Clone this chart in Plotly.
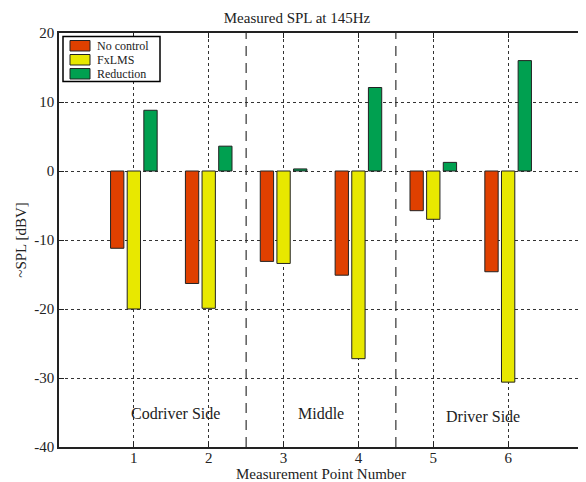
import plotly.graph_objects as go

points = [1, 2, 3, 4, 5, 6]
no_control = [-11.2, -16.3, -13.1, -15.1, -5.75, -14.6]
fxlms = [-20.0, -19.9, -13.4, -27.2, -7.0, -30.6]
reduction = [8.8, 3.6, 0.3, 12.1, 1.25, 16.0]
series_names = ["No control", "FxLMS", "Reduction"]
colors = ["#E04000", "#E8E800", "#00A050"]
y_ticks = [-40, -30, -20, -10, 0, 10, 20]
y_ticktext = ["-40", "-30", "-20", "-10", "0", "10", "20"]
region_labels = ["Codriver Side", "Middle", "Driver Side"]
region_x = [1.56, 3.5, 5.67]
region_y = [-35.2, -35.2, -35.6]
dividers = [2.5, 4.5]

font = "Liberation Serif"
ink = "#222222"

# page has an 8px body margin: figure is shrunk so the plot area lands where the reference has it
W, H = 578, 474
ML, MR, MT, MB = 51, 3, 25, 35
PW, PH = W - ML - MR, H - MT - MB


def px(xp):
    """page x pixel -> paper x"""
    return (xp - 8 - ML) / PW


def py(yp):
    """page y pixel -> paper y"""
    return 1 - (yp - 8 - MT) / PH


fig = go.Figure()
for name, vals, c in zip(series_names, [no_control, fxlms, reduction], colors):
    fig.add_trace(go.Bar(x=points, y=vals, name=name, showlegend=False,
                         marker=dict(color=c, line=dict(color=ink, width=1))))

for xv in dividers:
    fig.add_shape(type="line", x0=xv, x1=xv, y0=-40, y1=20, xref="x", yref="y",
                  line=dict(color="#333333", width=1.2, dash="10px,7px"))

for t, xv, yv in zip(region_labels, region_x, region_y):
    fig.add_annotation(x=xv, y=yv, text=t, showarrow=False,
                       font=dict(family=font, size=16, color=ink))

# legend box drawn by hand (compact MATLAB-style legend)
fig.add_shape(type="rect", xref="paper", yref="paper",
              x0=px(63), x1=px(160), y0=py(81.5), y1=py(36.5),
              fillcolor="white", line=dict(color="black", width=1.5))
row_tops = [40.5, 54.5, 68.5]
for name, c, top in zip(series_names, colors, row_tops):
    fig.add_shape(type="rect", xref="paper", yref="paper",
                  x0=px(70), x1=px(90), y0=py(top + 10.5), y1=py(top),
                  fillcolor=c, line=dict(color=ink, width=1))
    fig.add_annotation(xref="paper", yref="paper", x=px(96), y=py(top + 5.5),
                       xanchor="left", yanchor="middle", text=name, showarrow=False,
                       borderpad=0,
                       font=dict(family=font, size=12, color=ink))

fig.update_layout(
    width=W, height=H,
    paper_bgcolor="white", plot_bgcolor="white",
    margin=dict(l=ML, r=MR, t=MT, b=MB),
    barmode="group", bargap=0.333, bargroupgap=0.2,
    font=dict(family=font, size=15, color=ink),
    title=dict(text="Measured SPL at 145Hz", x=0.5, xanchor="center",
               y=1 - 10 / H, yanchor="middle",
               font=dict(family=font, size=15, color=ink)),
    showlegend=False,
)
fig.update_xaxes(range=[0, 7], tickvals=points, ticktext=[str(p) for p in points],
                 showline=True, linecolor=ink, linewidth=1.5, mirror="ticks",
                 ticks="inside", ticklen=5, tickcolor=ink, ticklabelstandoff=-4,
                 showgrid=True, gridcolor="#333333", griddash="dot", gridwidth=1,
                 zeroline=False, automargin=False,
                 title=dict(text="Measurement Point Number", standoff=0,
                            font=dict(family=font, size=15)),
                 tickfont=dict(family=font, size=15))
fig.update_yaxes(range=[-40, 20], tickvals=y_ticks, ticktext=y_ticktext,
                 showline=True, linecolor=ink, linewidth=1.5, mirror="ticks",
                 ticks="inside", ticklen=5, tickcolor=ink,
                 showgrid=True, gridcolor="#333333", griddash="dot", gridwidth=1,
                 zeroline=False, automargin=False,
                 title=dict(text="~SPL [dBV]", standoff=4, font=dict(family=font, size=15)),
                 tickfont=dict(family=font, size=15))

fig.write_html("out.html")
